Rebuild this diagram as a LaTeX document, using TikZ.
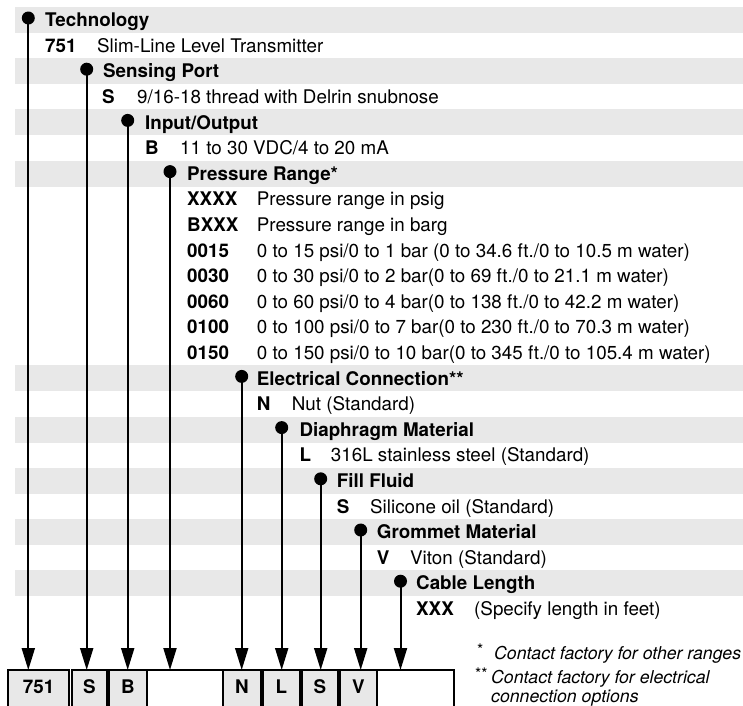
\documentclass[tikz,border=0pt]{standalone}
\usepackage{fontspec}
\setmainfont{TeX Gyre Heros}
\usetikzlibrary{arrows.meta}
\definecolor{band}{RGB}{232,232,232}
\begin{document}
\begin{tikzpicture}[x=1pt,y=-1pt,
  hdr/.style={font=\fontsize{18.8}{22}\selectfont\bfseries, inner sep=0pt, anchor=base west},
  codetxt/.style={font=\fontsize{18.8}{22}\selectfont\bfseries, inner sep=0pt, anchor=base west},
  desc/.style={font=\fontsize{18.8}{22}\selectfont, inner sep=0pt, anchor=base west},
  note/.style={font=\fontsize{17.7}{18.7}\selectfont\itshape, inner sep=0pt, anchor=base west},
  star/.style={font=\fontsize{16}{17}\selectfont, inner sep=0pt, anchor=base west},
  bullet/.style={circle, fill=black, inner sep=0pt, minimum size=13pt},
  arr/.style={line width=2pt, -{Triangle[length=22pt,width=13pt]}},
  box/.style={draw, line width=2pt, outer sep=0pt, inner sep=0pt, anchor=north west,
    text height=23pt, text depth=27pt, font=\fontsize{18.8}{22}\selectfont\bfseries},
  gbox/.style={box, fill=band},
  wbox/.style={box, fill=white}]
\useasboundingbox (0,0) rectangle (743,705);
\clip (0,0) rectangle (743,705);
% header bands
\foreach \y in {20,71.2,122.4,173.6,378.4,429.6,480.8,532,583.2}
  \fill[band] (15,\y-13) rectangle (743,\y+13);
% bottom boxes
\node[wbox, minimum width=76.6pt] (b3) at (146.7,670) {};
\node[wbox, minimum width=77.3pt] (b8) at (376.7,670) {};
\node[gbox, minimum width=61.3pt] (b0) at (8,670) {751};
\node[gbox, minimum width=35.6pt] (b1) at (71.7,670) {S};
\node[gbox, minimum width=37.4pt] (b2) at (109.3,670) {B};
\node[gbox, minimum width=37.4pt] (b4) at (223.3,670) {N};
\node[gbox, minimum width=37.3pt] (b5) at (262.7,670) {L};
\node[gbox, minimum width=36.6pt] (b6) at (301.7,670) {S};
\node[gbox, minimum width=36.7pt] (b7) at (340,670) {V};
% bullets
\node[bullet] (d0) at (28.3,18) {};
\node[bullet] (d1) at (86.7,69.2) {};
\node[bullet] (d2) at (127.7,120.4) {};
\node[bullet] (d3) at (170,171.6) {};
\node[bullet] (d4) at (241.7,376.4) {};
\node[bullet] (d5) at (281.7,427.6) {};
\node[bullet] (d6) at (320.7,478.8) {};
\node[bullet] (d7) at (360.7,530) {};
\node[bullet] (d8) at (400.5,581.2) {};
% connectors
\draw[arr] (d0.center) -- (d0.center |- b0.north);
\draw[arr] (d1.center) -- (d1.center |- b1.north);
\draw[arr] (d2.center) -- (d2.center |- b2.north);
\draw[arr] (d3.center) -- (d3.center |- b3.north);
\draw[arr] (d4.center) -- (d4.center |- b4.north);
\draw[arr] (d5.center) -- (d5.center |- b5.north);
\draw[arr] (d6.center) -- (d6.center |- b6.north);
\draw[arr] (d7.center) -- (d7.center |- b7.north);
\draw[arr] (d8.center) -- (d8.center |- b8.north);
% texts
\node[hdr] (h0) at (45,26.6) {Technology};
\node[codetxt] (c0) at (45,52.2) {751};
\node[desc] (e0) at (97,52.2) {Slim-Line Level Transmitter};
\node[hdr] (h1) at (103,77.8) {Sensing Port};
\node[codetxt] (c1) at (102,103.4) {S};
\node[desc] (e1) at (137,103.4) {9/16-18 thread with Delrin snubnose};
\node[hdr] (h2) at (145,129) {Input/Output};
\node[codetxt] (c2) at (145,154.6) {B};
\node[desc] (e2) at (180,154.6) {11 to 30 VDC/4 to 20 mA};
\node[hdr] (h3) at (187,180.2) {Pressure Range*};
\node[codetxt] (c3a) at (187,205.8) {XXXX};
\node[desc] (e3a) at (256.7,205.8) {Pressure range in psig};
\node[codetxt] (c3b) at (187,231.4) {BXXX};
\node[desc] (e3b) at (256.7,231.4) {Pressure range in barg};
\node[codetxt] (c3c) at (187,257) {0015};
\node[desc] (e3c) at (256.7,257) {0 to 15 psi/0 to 1 bar (0 to 34.6 ft./0 to 10.5 m water)};
\node[codetxt] (c3d) at (187,282.6) {0030};
\node[desc] (e3d) at (256.7,282.6) {0 to 30 psi/0 to 2 bar(0 to 69 ft./0 to 21.1 m water)};
\node[codetxt] (c3e) at (187,308.2) {0060};
\node[desc] (e3e) at (256.7,308.2) {0 to 60 psi/0 to 4 bar(0 to 138 ft./0 to 42.2 m water)};
\node[codetxt] (c3f) at (187,333.8) {0100};
\node[desc] (e3f) at (256.7,333.8) {0 to 100 psi/0 to 7 bar(0 to 230 ft./0 to 70.3 m water)};
\node[codetxt] (c3g) at (187,359.4) {0150};
\node[desc] (e3g) at (256.7,359.4) {0 to 150 psi/0 to 10 bar(0 to 345 ft./0 to 105.4 m water)};
\node[hdr] (h4) at (256.7,385) {Electrical Connection**};
\node[codetxt] (c4) at (256.7,410.6) {N};
\node[desc] (e4) at (291.7,410.6) {Nut (Standard)};
\node[hdr] (h5) at (299.3,436.2) {Diaphragm Material};
\node[codetxt] (c5) at (299.3,461.8) {L};
\node[desc] (e5) at (330.7,461.8) {316L stainless steel (Standard)};
\node[hdr] (h6) at (336.7,487.4) {Fill Fluid};
\node[codetxt] (c6) at (336.7,513) {S};
\node[desc] (e6) at (370,513) {Silicone oil (Standard)};
\node[hdr] (h7) at (376.7,538.6) {Grommet Material};
\node[codetxt] (c7) at (376.7,564.2) {V};
\node[desc] (e7) at (410,564.2) {Viton (Standard)};
\node[hdr] (h8) at (416,589.8) {Cable Length};
\node[codetxt] (c8) at (416,615.4) {XXX};
\node[desc] (e8) at (474,615.4) {(Specify length in feet)};
% footnotes
\node[star] (s1) at (477,655) {*};
\node[note] (n1) at (494,659) {Contact factory for other ranges};
\node[star] (s2) at (475,679.5) {**};
\node[note] (n2a) at (491,683.3) {Contact factory for electrical};
\node[note] (n2b) at (491,702) {connection options};
\end{tikzpicture}
\end{document}
